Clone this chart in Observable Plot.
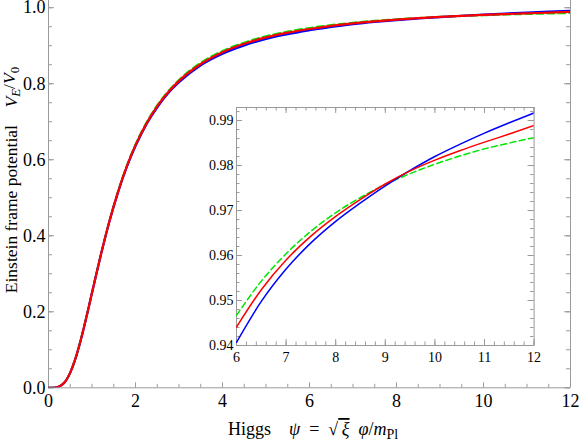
<!DOCTYPE html>
<html><head><meta charset="utf-8">
<script src="https://cdn.jsdelivr.net/npm/d3@7"></script>
<script src="https://cdn.jsdelivr.net/npm/@observablehq/plot@0.6"></script>
<style>
body{margin:0;background:#fff}
#wrap{position:relative;width:579px;height:442px;font-family:"Liberation Serif","DejaVu Serif",serif}
svg text{font-family:"Liberation Serif","DejaVu Serif",serif}
</style>
</head><body><div id="wrap"></div>
<script>
// ---- data ----
const psiMain   = [0, 0.1, 0.2, 0.3, 0.4, 0.5, 0.6, 0.7, 0.8, 0.9, 1.0, 1.2, 1.4, 1.6, 1.8, 2.0, 2.25, 2.5, 2.75, 3.0, 3.5, 4.0, 4.5, 5.0, 5.5];
const vGreenMain = [0, 0.0001, 0.0015, 0.0068, 0.019, 0.040, 0.070, 0.108, 0.152, 0.200, 0.250, 0.348, 0.4385, 0.517, 0.584, 0.640, 0.697, 0.743, 0.780, 0.810, 0.855, 0.886, 0.908, 0.925, 0.937];
const vBlueMain  = [0, 0.0001, 0.0015, 0.0068, 0.019, 0.040, 0.070, 0.108, 0.152, 0.200, 0.250, 0.348, 0.4375, 0.515, 0.581, 0.636, 0.693, 0.738, 0.775, 0.804, 0.8485, 0.879, 0.901, 0.918, 0.9305];
const vRedMain   = [0, 0.0001, 0.0015, 0.0068, 0.019, 0.040, 0.070, 0.108, 0.152, 0.200, 0.250, 0.348, 0.438, 0.516, 0.5825, 0.6385, 0.695, 0.741, 0.7775, 0.8075, 0.852, 0.883, 0.905, 0.922, 0.9344];

const psiInset   = [6, 6.5, 7, 7.5, 8, 8.5, 9, 9.5, 10, 10.5, 11, 11.5, 12];
const vGreenInset = [0.9467, 0.9543, 0.9604, 0.9654, 0.9695, 0.9729, 0.9758, 0.9782, 0.9803, 0.9821, 0.9837, 0.9850, 0.9862];
const vBlueInset  = [0.9407, 0.9498, 0.9570, 0.9628, 0.9676, 0.9717, 0.9755, 0.9789, 0.9820, 0.9847, 0.9872, 0.9895, 0.9917];
const vRedInset   = [0.9441, 0.9524, 0.9590, 0.9643, 0.9687, 0.9725, 0.9759, 0.9788, 0.9812, 0.9833, 0.9852, 0.9870, 0.9889];

const mainXTicks  = [0, 2, 4, 6, 8, 10, 12];
const mainYTicks  = [0, 0.2, 0.4, 0.6, 0.8, 1.0];
const insetXTicks = [6, 7, 8, 9, 10, 11, 12];
const insetYTicks = [0.94, 0.95, 0.96, 0.97, 0.98, 0.99];

const seriesColors = {green: "#00e600", blue: "#0000ff", red: "#ff0000"};

// ---- build tables ----
const rows = (name, psi, v) => psi.map((x, i) => ({psi: x, v: v[i], s: name}));
const mainData = {
  green: rows("green", psiMain.concat(psiInset), vGreenMain.concat(vGreenInset)),
  blue:  rows("blue",  psiMain.concat(psiInset), vBlueMain.concat(vBlueInset)),
  red:   rows("red",   psiMain.concat(psiInset), vRedMain.concat(vRedInset))
};
const insetData = {
  green: rows("green", psiInset, vGreenInset),
  blue:  rows("blue",  psiInset, vBlueInset),
  red:   rows("red",   psiInset, vRedInset)
};

const FONT = '"Liberation Serif", "DejaVu Serif", serif';
const AX = "#9a9a9a";

// ---- main plot ----
const W = 579, H = 442, mL = 48, mR = 9, mT = 0, mB = 54.7;
const pW = W - mL - mR, pH = H - mT - mB;
const xMinor = d3.range(0, 12.001, 0.5);
const yMinor = d3.range(0, 1.0001, 0.05);

const lineOpts = (name, w, dash) => ({
  x: "psi", y: "v", stroke: seriesColors[name], strokeWidth: w,
  curve: "monotone-x", strokeDasharray: dash, clip: true
});

const main = Plot.plot({
  width: W, height: H,
  marginLeft: mL, marginRight: mR, marginTop: mT, marginBottom: mB,
  x: {domain: [0, 12]},
  y: {domain: [0, 1.019]},
  style: {fontFamily: FONT, fontSize: "18px", color: "black", background: "white"},
  marks: [
    Plot.tickY(yMinor, {y: d => d, stroke: AX, insetRight: pW - 4}),
    Plot.tickY(mainYTicks, {y: d => d, stroke: AX, insetRight: pW - 6}),
    Plot.tickY(yMinor, {y: d => d, stroke: AX, insetLeft: pW - 4}),
    Plot.tickY(mainYTicks, {y: d => d, stroke: AX, insetLeft: pW - 6}),
    Plot.tickX(xMinor, {x: d => d, stroke: AX, insetTop: pH - 3.5}),
    Plot.tickX(mainXTicks, {x: d => d, stroke: AX, insetTop: pH - 5}),
    Plot.ruleX([0, 12], {stroke: AX}),
    Plot.ruleY([0], {stroke: AX}),
    Plot.axisY(mainYTicks, {tickSize: 0, tickPadding: 3, tickFormat: d3.format(".1f"), label: null, fontSize: 18, fontFamily: FONT, fill: "black"}),
    Plot.axisX(mainXTicks, {tickSize: 0, tickPadding: 6, tickFormat: d3.format("d"), label: null, fontSize: 18, fontFamily: FONT, fill: "black"}),
    Plot.line(mainData.green, lineOpts("green", 2.2, "7,4")),
    Plot.line(mainData.blue, lineOpts("blue", 2.2)),
    Plot.line(mainData.red, lineOpts("red", 2.2))
  ]
});

const wrap = document.getElementById("wrap");
wrap.appendChild(main);

// axis titles
const svg = d3.select(main);
const xt = svg.append("text")
  .attr("x", 228).attr("y", 435).attr("text-anchor", "start")
  .style("font-family", FONT).style("font-size", "18px").attr("fill", "black");
xt.append("tspan").text("Higgs\u2003");
xt.append("tspan").style("font-style", "italic").text("ψ");
xt.append("tspan").text("\u2002=\u2002√");
xt.append("tspan").style("font-style", "italic").style("text-decoration", "overline").text("\u2009ξ");
xt.append("tspan").text("\u2002");
xt.append("tspan").style("font-style", "italic").text("φ");
xt.append("tspan").text("/");
xt.append("tspan").style("font-style", "italic").text("m");
xt.append("tspan").attr("dy", "0.3em").style("font-size", "14px").text("Pl");

const yt = svg.append("text")
  .attr("transform", "translate(16.5,180) rotate(-90)").attr("text-anchor", "middle")
  .style("font-family", FONT).style("font-size", "17.5px").attr("fill", "black");
yt.append("tspan").text("Einstein frame potential\u2003");
yt.append("tspan").style("font-style", "italic").text("V");
yt.append("tspan").attr("dy", "0.3em").style("font-size", "13px").style("font-style", "italic").text("E");
yt.append("tspan").attr("dy", "-0.3em").text("/");
yt.append("tspan").style("font-style", "italic").text("V");
yt.append("tspan").attr("dy", "0.3em").style("font-size", "13px").text("0");

// ---- inset ----
const iL = 235.7, iT = 107.3, iR = 533.3, iB = 345.3;
const imL = 40, imT = 2, imR = 14, imB = 24;
const iW = iR - iL, iH = iB - iT;
const ixMinor = d3.range(6, 12.0001, 0.2);
const iyMinor = d3.range(0.94, 0.993, 0.002);

const inset = Plot.plot({
  width: iW + imL + imR, height: iH + imT + imB,
  marginLeft: imL, marginRight: imR, marginTop: imT, marginBottom: imB,
  x: {domain: [6, 12]},
  y: {domain: [0.94, 0.9929]},
  style: {fontFamily: FONT, fontSize: "14px", color: "black", background: "transparent"},
  marks: [
    Plot.frame({fill: "white", stroke: AX}),
    Plot.tickY(iyMinor, {y: d => d, stroke: AX, insetRight: iW - 3.5}),
    Plot.tickY(insetYTicks, {y: d => d, stroke: AX, insetRight: iW - 6}),
    Plot.tickY(iyMinor, {y: d => d, stroke: AX, insetLeft: iW - 3.5}),
    Plot.tickY(insetYTicks, {y: d => d, stroke: AX, insetLeft: iW - 6}),
    Plot.tickX(ixMinor, {x: d => d, stroke: AX, insetTop: iH - 3.5}),
    Plot.tickX(insetXTicks, {x: d => d, stroke: AX, insetTop: iH - 6}),
    Plot.tickX(ixMinor, {x: d => d, stroke: AX, insetBottom: iH - 3.5}),
    Plot.tickX(insetXTicks, {x: d => d, stroke: AX, insetBottom: iH - 6}),
    Plot.axisY(insetYTicks, {tickSize: 0, tickPadding: 3, tickFormat: d3.format(".2f"), label: null, fontSize: 14, fontFamily: FONT, fill: "black"}),
    Plot.axisX(insetXTicks, {tickSize: 0, tickPadding: 7, tickFormat: d3.format("d"), label: null, fontSize: 14, fontFamily: FONT, fill: "black"}),
    Plot.line(insetData.green, lineOpts("green", 1.5, "6,3.5")),
    Plot.line(insetData.blue, lineOpts("blue", 1.5)),
    Plot.line(insetData.red, lineOpts("red", 1.5))
  ]
});
inset.style.position = "absolute";
inset.style.left = (iL - imL) + "px";
inset.style.top = (iT - imT) + "px";
wrap.appendChild(inset);
</script>
</body></html>
